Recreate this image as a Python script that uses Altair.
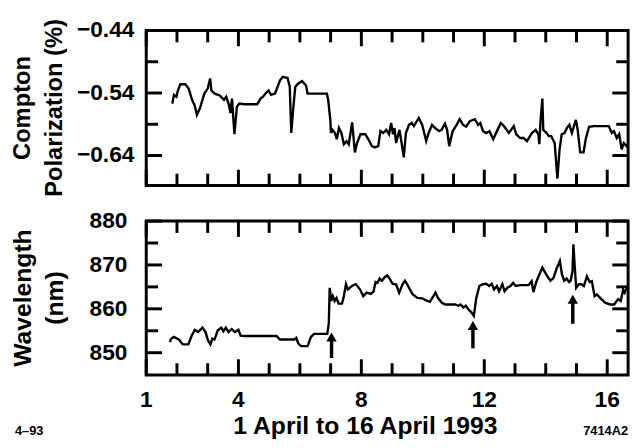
import altair as alt
import pandas as pd

FONT = "Liberation Sans"

# ---------------- data ----------------
pol_day = [1.85, 1.90, 1.98, 2.03, 2.11, 2.27, 2.38, 2.49, 2.57, 2.65, 2.75, 2.89, 3.00, 3.08, 3.12,
           3.23, 3.39, 3.53, 3.60, 3.68, 3.74, 3.79, 3.87, 3.95, 4.03, 4.18, 4.61, 4.72, 4.80, 4.88,
           4.98, 5.06, 5.19, 5.35, 5.44, 5.60, 5.67, 5.72, 5.78, 5.85, 5.94, 6.07, 6.20, 6.25, 6.88,
           6.92, 6.99, 7.01, 7.06, 7.14, 7.20, 7.27, 7.35, 7.43, 7.52, 7.59, 7.70, 7.79, 7.86, 7.97,
           8.13, 8.23, 8.34, 8.44, 8.55, 8.62, 8.71, 8.81, 8.90, 8.97, 9.03, 9.08, 9.13, 9.24, 9.31,
           9.38, 9.45, 9.55, 9.64, 9.71, 9.87, 9.98, 10.11, 10.19, 10.30, 10.40, 10.53, 10.61, 10.72,
           10.79, 10.86, 10.97, 11.10, 11.20, 11.31, 11.41, 11.53, 11.69, 11.80, 11.87, 11.96, 12.06,
           12.17, 12.29, 12.43, 12.54, 12.64, 12.80, 12.96, 13.04, 13.17, 13.28, 13.39, 13.55, 13.67,
           13.76, 13.79, 13.83, 13.89, 13.92, 14.03, 14.10, 14.18, 14.29, 14.38, 14.45, 14.52, 14.61,
           14.69, 14.77, 14.85, 14.93, 14.98, 15.04, 15.12, 15.23, 15.30, 15.41, 15.57, 16.05, 16.15,
           16.22, 16.31, 16.39, 16.47, 16.54, 16.63, 16.70]
pol_val = [-0.557, -0.543, -0.546, -0.536, -0.526, -0.526, -0.533, -0.551, -0.559, -0.575, -0.564,
           -0.541, -0.533, -0.517, -0.536, -0.541, -0.544, -0.551, -0.546, -0.557, -0.572, -0.549,
           -0.606, -0.562, -0.557, -0.558, -0.558, -0.549, -0.546, -0.541, -0.536, -0.543, -0.541,
           -0.520, -0.514, -0.516, -0.530, -0.604, -0.567, -0.530, -0.525, -0.521, -0.528, -0.541,
           -0.541, -0.551, -0.583, -0.604, -0.599, -0.604, -0.614, -0.596, -0.604, -0.622, -0.617,
           -0.622, -0.587, -0.635, -0.620, -0.606, -0.606, -0.614, -0.625, -0.627, -0.625, -0.601,
           -0.604, -0.599, -0.606, -0.588, -0.606, -0.596, -0.620, -0.599, -0.620, -0.643, -0.604,
           -0.591, -0.588, -0.593, -0.580, -0.591, -0.617, -0.604, -0.591, -0.596, -0.601, -0.599,
           -0.589, -0.599, -0.625, -0.601, -0.591, -0.582, -0.591, -0.594, -0.585, -0.582, -0.591,
           -0.588, -0.601, -0.604, -0.601, -0.614, -0.599, -0.588, -0.593, -0.604, -0.593, -0.606,
           -0.612, -0.612, -0.617, -0.604, -0.599, -0.606, -0.622, -0.585, -0.549, -0.599, -0.604,
           -0.609, -0.609, -0.620, -0.677, -0.630, -0.606, -0.604, -0.596, -0.591, -0.604, -0.591,
           -0.583, -0.599, -0.635, -0.635, -0.614, -0.594, -0.593, -0.593, -0.604, -0.601, -0.612,
           -0.606, -0.630, -0.620, -0.625, -0.620]

wl_day = [1.77, 1.81, 1.90, 2.06, 2.19, 2.37, 2.48, 2.58, 2.69, 2.83, 2.93, 3.01, 3.09, 3.15, 3.22,
          3.33, 3.44, 3.51, 3.59, 3.68, 3.78, 3.89, 4.00, 4.07, 4.23, 5.24, 5.35, 5.82, 5.88, 5.95,
          6.04, 6.25, 6.36, 6.46, 6.89, 6.94, 6.97, 7.02, 7.07, 7.13, 7.19, 7.26, 7.37, 7.42, 7.50,
          7.56, 7.69, 7.82, 7.96, 8.06, 8.17, 8.31, 8.40, 8.46, 8.52, 8.60, 8.67, 8.76, 8.84, 8.91,
          9.02, 9.13, 9.23, 9.34, 9.42, 9.52, 9.66, 9.82, 9.98, 10.09, 10.23, 10.33, 10.41, 10.49,
          10.62, 10.73, 11.05, 11.16, 11.23, 11.32, 11.40, 11.48, 11.58, 11.66, 11.74, 11.84, 11.95,
          12.06, 12.16, 12.24, 12.32, 12.41, 12.48, 12.59, 12.66, 12.75, 12.85, 12.94, 13.02, 13.17,
          13.44, 13.54, 13.60, 13.68, 13.79, 13.89, 14.02, 14.15, 14.25, 14.36, 14.46, 14.53, 14.60,
          14.68, 14.76, 14.81, 14.87, 14.90, 14.94, 14.99, 15.08, 15.16, 15.24, 15.34, 15.43, 15.50,
          15.59, 15.66, 15.77, 15.93, 16.09, 16.23, 16.31, 16.36, 16.44, 16.52, 16.57, 16.62, 16.70]
wl_val = [852.4, 853.2, 853.6, 853.0, 851.9, 851.9, 853.9, 855.2, 854.7, 855.7, 854.7, 852.8, 851.9,
          853.2, 853.0, 855.1, 855.7, 854.9, 855.7, 854.7, 855.4, 854.7, 855.2, 853.9, 853.8, 853.8,
          853.0, 853.0, 853.4, 852.1, 851.5, 851.5, 853.6, 854.3, 854.3, 856.6, 864.8, 861.8, 862.9,
          861.8, 862.5, 861.2, 861.2, 862.5, 865.6, 864.4, 865.2, 865.6, 864.4, 862.9, 863.7, 863.4,
          864.0, 866.1, 865.9, 866.9, 866.4, 867.2, 867.6, 867.0, 865.7, 865.6, 863.7, 865.6, 866.4,
          865.2, 863.4, 862.5, 862.4, 862.0, 861.6, 862.7, 863.7, 862.5, 861.4, 861.0, 861.0, 860.7,
          861.0, 860.3, 860.7, 859.9, 859.2, 858.4, 862.5, 865.2, 865.6, 865.7, 865.2, 865.7, 864.4,
          865.2, 864.0, 865.6, 864.0, 864.8, 865.2, 865.9, 865.2, 865.4, 865.4, 866.3, 863.8, 865.9,
          867.8, 869.4, 867.8, 866.4, 867.0, 869.3, 870.9, 867.8, 866.4, 866.9, 866.1, 866.4, 868.5,
          874.7, 870.0, 864.8, 865.6, 865.6, 865.2, 867.4, 866.1, 866.3, 862.9, 863.3, 862.5, 861.4,
          861.0, 861.0, 861.8, 862.2, 861.8, 864.4, 863.7, 864.4, 864.6]

arrow_day = [7.03, 11.63, 14.88]
arrow_base = [848.8, 851.0, 856.6]
arrow_tip = [854.7, 857.3, 863.3]

x_major = [1, 4, 8, 12, 16]
x_minor = [2, 3, 5, 6, 7, 9, 10, 11, 13, 14, 15]
pol_major = [-0.44, -0.54, -0.64]
pol_minor = [-0.49, -0.59]
wl_major = [850, 860, 870, 880]
wl_minor = [855, 865, 875]

x_title = "1 April to 16 April 1993"
pol_title = ["Compton", "Polarization (%)"]
wl_title = ["Wavelength", "(nm)"]
note_left = "4–93"
note_right = "7414A2"

X_DOMAIN = [1, 16.68]
POL_DOMAIN = [-0.688, -0.44]
WL_DOMAIN = [844.9, 880]

W = 488
H_TOP = 157
H_BOT = 156
MAJOR = 16   # tick lengths in pixels
MINOR = 12

xs = alt.Scale(domain=X_DOMAIN, nice=False, zero=False)
ps = alt.Scale(domain=POL_DOMAIN, nice=False, zero=False)
ws = alt.Scale(domain=WL_DOMAIN, nice=False, zero=False)

one = pd.DataFrame({"k": [0]})


def txt(df, **mk):
    return alt.Chart(df).mark_text(font=FONT, fontWeight="bold", color="black", **mk)


def tick_table(yfield, ydom, height):
    """Short inward segments on all four edges, two end points per tick,
    built from the tick value lists; pixel lengths are turned into data units."""
    rows = []
    n = 0
    for xv, yv, px in ((x_major, None, MAJOR), (x_minor, None, MINOR),
                       (None, None, 0)):
        pass
    for vals, px in ((x_major, MAJOR), (x_minor, MINOR)):
        dy = px * (ydom[1] - ydom[0]) / height
        for v in vals:
            for a, b in ((ydom[1], ydom[1] - dy), (ydom[0], ydom[0] + dy)):
                rows.append({"id": n, "day": v, yfield: a})
                rows.append({"id": n, "day": v, yfield: b})
                n += 1
    ymaj = pol_major if yfield == "pol" else wl_major
    ymin = pol_minor if yfield == "pol" else wl_minor
    for vals, px in ((ymaj, MAJOR), (ymin, MINOR)):
        dx = px * (X_DOMAIN[1] - X_DOMAIN[0]) / W
        for v in vals:
            for a, b in ((X_DOMAIN[0], X_DOMAIN[0] + dx), (X_DOMAIN[1], X_DOMAIN[1] - dx)):
                rows.append({"id": n, "day": a, yfield: v})
                rows.append({"id": n, "day": b, yfield: v})
                n += 1
    return pd.DataFrame(rows)


def ticks(yfield, ydom, height, yscale):
    return alt.Chart(tick_table(yfield, ydom, height)).mark_line(
        color="black", strokeWidth=3, strokeCap="butt").encode(
        x=alt.X("day:Q", scale=xs, axis=None),
        y=alt.Y(f"{yfield}:Q", scale=yscale, axis=None),
        detail="id:N")


def y_labels(values, yscale, fmt, gap):
    return txt(pd.DataFrame({"lv": values}), fontSize=23, align="right", baseline="middle").encode(
        y=alt.Y("lv:Q", scale=yscale, axis=None), x=alt.value(-gap),
        text=alt.Text("lv:Q", format=fmt))


def y_title_line(line, size, xpos, height):
    return txt(one, fontSize=size, align="center", baseline="alphabetic", angle=270,
               text=line).encode(x=alt.value(xpos), y=alt.value(height / 2))


pol_df = pd.DataFrame({"day": pol_day, "pol": pol_val})
wl_df = pd.DataFrame({"day": wl_day, "wl": wl_val})
arrow_df = pd.DataFrame({"day": arrow_day, "wl": arrow_base, "tip": arrow_tip})

# ---------------- top panel ----------------
pol_line = alt.Chart(pol_df).mark_line(color="black", strokeWidth=2.4, clip=True).encode(
    x=alt.X("day:Q", scale=xs, axis=None),
    y=alt.Y("pol:Q", scale=ps, axis=None),
)
top = alt.layer(
    pol_line,
    ticks("pol", POL_DOMAIN, H_TOP, ps),
    y_labels(pol_major, ps, ".2f", 12),
    y_title_line(pol_title[0], 24, -118, H_TOP),
    y_title_line(pol_title[1], 24, -85, H_TOP),
).properties(width=W, height=H_TOP)

# ---------------- bottom panel ----------------
wl_line = alt.Chart(wl_df).mark_line(color="black", strokeWidth=2.4, clip=True).encode(
    x=alt.X("day:Q", scale=xs, axis=None),
    y=alt.Y("wl:Q", scale=ws, axis=None),
)
arrow_shaft = alt.Chart(arrow_df).mark_rule(color="black", strokeWidth=3.5).transform_calculate(
    head="datum.tip - 1.2").encode(
    x=alt.X("day:Q", scale=xs, axis=None), y=alt.Y("wl:Q", scale=ws, axis=None), y2="head:Q")
arrow_head = alt.Chart(arrow_df).mark_point(shape="triangle-up", filled=True, color="black",
                                            opacity=1, size=110).transform_calculate(
    wl="datum.tip - 1.1").encode(
    x=alt.X("day:Q", scale=xs, axis=None), y=alt.Y("wl:Q", scale=ws, axis=None))
x_labels = txt(pd.DataFrame({"lv": x_major}), fontSize=23, align="center", baseline="top").encode(
    x=alt.X("lv:Q", scale=xs, axis=None), y=alt.value(H_BOT + 14),
    text=alt.Text("lv:Q", format="d"))
x_title_t = txt(one, fontSize=25, align="center", baseline="top", text=x_title).encode(
    x=alt.value(222), y=alt.value(H_BOT + 40))
note_l = txt(pd.DataFrame({"t": [note_left]}), fontSize=13, align="left", baseline="middle").encode(
    text="t:N", x=alt.value(-133), y=alt.value(213))
note_r = txt(pd.DataFrame({"t": [note_right]}), fontSize=13, align="right", baseline="middle").encode(
    text="t:N", x=alt.value(W), y=alt.value(213))

bottom = alt.layer(
    wl_line, arrow_shaft, arrow_head,
    ticks("wl", WL_DOMAIN, H_BOT, ws),
    y_labels(wl_major, ws, "d", 19),
    y_title_line(wl_title[0], 25, -117, H_BOT),
    y_title_line(wl_title[1], 25, -84, H_BOT),
    x_labels, x_title_t, note_l, note_r,
).properties(width=W, height=H_BOT)

chart = alt.vconcat(top, bottom, spacing=36, bounds="flush").properties(
    padding={"left": 1, "top": 6, "right": 0, "bottom": 0},
    background="white",
).configure_view(stroke="black", strokeWidth=3)

chart.save("out.html", embed_options={"renderer": "svg", "actions": False})
